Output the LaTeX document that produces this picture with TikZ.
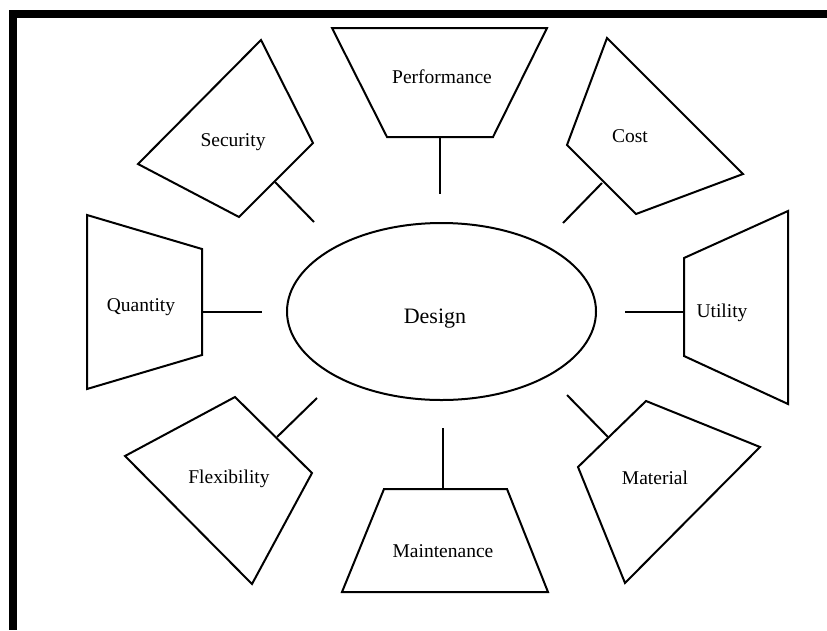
\documentclass[tikz,border=0pt]{standalone}
\usepackage{fontspec}
\setmainfont{Liberation Serif}
\usetikzlibrary{shapes.geometric}
\begin{document}
\begin{tikzpicture}[x=1pt,y=-1pt,
  facet/.style={draw=black,line width=2pt,line join=miter},
  link/.style={draw=black,line width=2pt},
  lbl/.style={font=\fontsize{19.5}{23}\selectfont,inner sep=0pt},
  hub/.style={draw=black,line width=2pt,ellipse,minimum width=309pt,minimum height=177pt},
]
\useasboundingbox (0,0) rectangle (827,630);
% frame edges
\fill[black] (9,10) rectangle (827,18);
\fill[black] (9,10) rectangle (17,630);

% centre
\node[hub] (design) at (441.5,311.5) {};
\node[lbl,font=\fontsize{22}{26}\selectfont] (designtxt) at (435,319) {Design};

% surrounding facets
\draw[facet] (332,28) -- (547,28) -- (493,137) -- (387,137) -- cycle;
\node[lbl] (performance) at (442,77) {Performance};

\draw[facet] (261,40) -- (313,143) -- (239,217) -- (138,164) -- cycle;
\node[lbl] (security) at (233,142) {Security};

\draw[facet] (607,38) -- (743,174) -- (636,214) -- (567,145) -- cycle;
\node[lbl] (cost) at (630,136) {Cost};

\draw[facet] (87,215) -- (202,249) -- (202,355) -- (87,389) -- cycle;
\node[lbl] (quantity) at (141,307) {Quantity};

\draw[facet] (788,211) -- (684,258) -- (684,356) -- (788,404) -- cycle;
\node[lbl] (utility) at (722,313) {Utility};

\draw[facet] (235,397) -- (312,473) -- (252,584) -- (125,456) -- cycle;
\node[lbl] (flexibility) at (229,479) {Flexibility};

\draw[facet] (384,489) -- (507,489) -- (548,592) -- (342,592) -- cycle;
\node[lbl] (maintenance) at (443,551) {Maintenance};

\draw[facet] (646,401) -- (760,447) -- (625,583) -- (578,467) -- cycle;
\node[lbl] (material) at (655,478) {Material};

% connector ends
\coordinate (perfA) at (440,137);  \coordinate (perfB) at (440,194);
\coordinate (secA) at (275,182);   \coordinate (secB) at (314,222);
\coordinate (costA) at (602,183);  \coordinate (costB) at (563,223);
\coordinate (quanA) at (202,312);  \coordinate (quanB) at (262,312);
\coordinate (utilA) at (684,312);  \coordinate (utilB) at (625,312);
\coordinate (flexA) at (277,437);  \coordinate (flexB) at (317,398);
\coordinate (mainA) at (443,489);  \coordinate (mainB) at (443,428);
\coordinate (mateA) at (608,437);  \coordinate (mateB) at (567,395);

\draw[link] (perfA) -- (perfB);
\draw[link] (secA) -- (secB);
\draw[link] (costA) -- (costB);
\draw[link] (quanA) -- (quanB);
\draw[link] (utilA) -- (utilB);
\draw[link] (flexA) -- (flexB);
\draw[link] (mainA) -- (mainB);
\draw[link] (mateA) -- (mateB);
\end{tikzpicture}
\end{document}
